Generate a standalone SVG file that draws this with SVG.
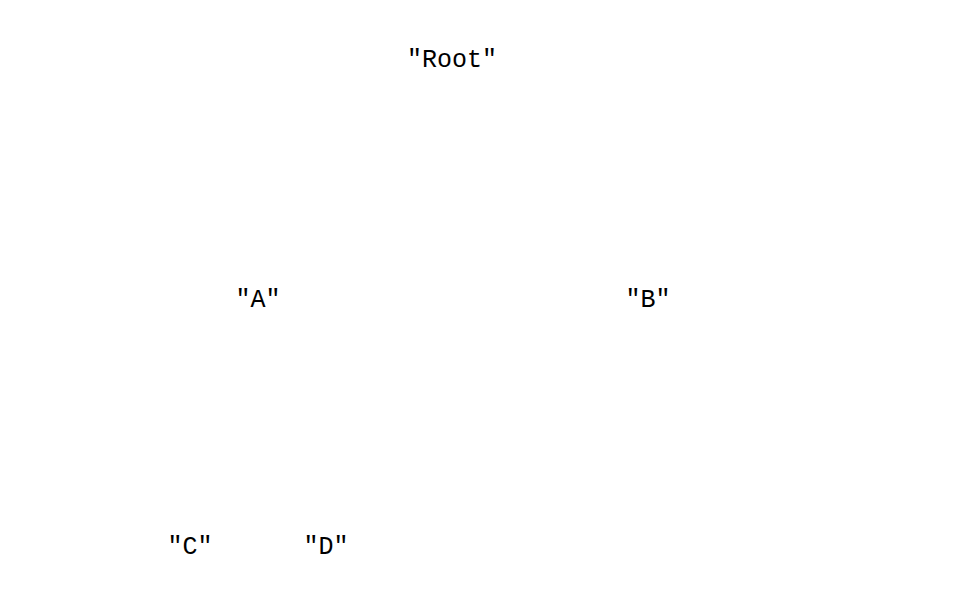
<svg xmlns="http://www.w3.org/2000/svg" width="973" height="600" viewBox="0 0 973 600">
<style>
.lbl{font-family:"Liberation Mono",monospace;font-size:25px;fill:#000;text-anchor:middle}
</style>
<rect width="973" height="600" fill="#fff"/>
<g id="connectors"></g>
<g id="node-root"><text class="lbl" x="452" y="67">"Root"</text></g>
<g id="node-a"><text class="lbl" x="258" y="307">"A"</text></g>
<g id="node-b"><text class="lbl" x="648" y="307">"B"</text></g>
<g id="node-c"><text class="lbl" x="190" y="554">"C"</text></g>
<g id="node-d"><text class="lbl" x="326" y="554">"D"</text></g>
</svg>
